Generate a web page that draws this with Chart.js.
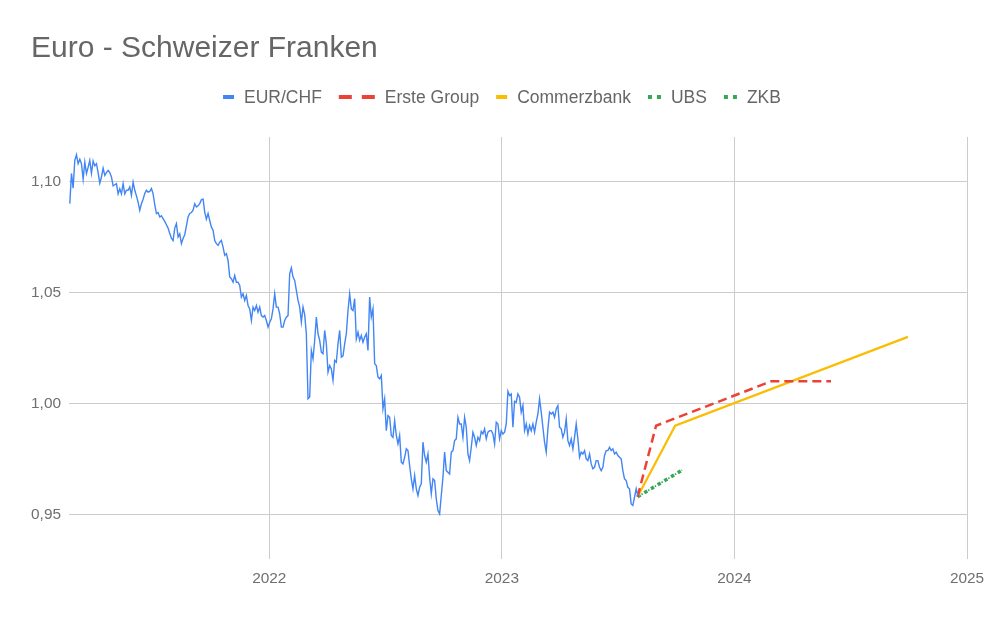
<!DOCTYPE html>
<html>
<head>
<meta charset="utf-8">
<script src="https://cdn.jsdelivr.net/npm/chart.js@4.4.0/dist/chart.umd.min.js"></script>
<style>
html,body{margin:0;padding:0;background:#fff;}
</style>
</head>
<body>
<canvas id="fxChart" width="998" height="617"></canvas>
<script>
const chartTitle = "Euro - Schweizer Franken";
const yearTicks = [2022, 2023, 2024, 2025];
const valueTicks = [0.95, 1.00, 1.05, 1.10];

// EUR/CHF, every ~2.6 days from the start date
const eurStart = "2021-02-22";
const eurStepDays = 2.616;
const eurValues = [
1.0900,1.1036,1.0970,1.1095,1.1120,1.1080,1.1100,1.1080,1.1010,1.1087,
1.1036,1.1064,1.1095,1.1036,1.1092,1.1070,1.1080,1.1040,1.0992,1.1020,
1.1060,1.1027,1.1040,1.1050,1.1040,1.1020,1.0980,1.0985,1.0990,1.0944,
1.0967,1.0944,1.0990,1.0944,1.0960,1.0960,1.0975,1.0937,1.0997,1.0960,
1.0935,1.0907,1.0870,1.0900,1.0920,1.0946,1.0960,1.0952,1.0955,1.0968,
1.0944,1.0895,1.0855,1.0860,1.0840,1.0845,1.0832,1.0820,1.0805,1.0790,
1.0765,1.0745,1.0734,1.0790,1.0810,1.0750,1.0764,1.0720,1.0743,1.0760,
1.0800,1.0840,1.0856,1.0860,1.0870,1.0900,1.0885,1.0890,1.0900,1.0918,
1.0920,1.0862,1.0830,1.0856,1.0824,1.0794,1.0780,1.0734,1.0720,1.0712,
1.0726,1.0734,1.0704,1.0667,1.0675,1.0644,1.0570,1.0562,1.0546,1.0577,
1.0546,1.0546,1.0532,1.0479,1.0494,1.0464,1.0487,1.0441,1.0426,1.0374,
1.0434,1.0419,1.0441,1.0411,1.0434,1.0396,1.0389,1.0396,1.0374,1.0344,
1.0366,1.0381,1.0426,1.0494,1.0434,1.0434,1.0404,1.0344,1.0344,1.0374,
1.0389,1.0396,1.0584,1.0611,1.0569,1.0554,1.0509,1.0464,1.0434,1.0366,
1.0434,1.0400,1.0314,1.0021,1.0029,1.0239,1.0201,1.0284,1.0389,1.0314,
1.0284,1.0231,1.0224,1.0329,1.0270,1.0141,1.0171,1.0156,1.0104,1.0194,
1.0186,1.0269,1.0329,1.0209,1.0215,1.0269,1.0314,1.0419,1.0494,1.0426,
1.0419,1.0472,1.0291,1.0321,1.0284,1.0306,1.0276,1.0299,1.0314,1.0239,
1.0479,1.0389,1.0426,1.0179,1.0171,1.0119,1.0111,1.0126,0.9976,1.0021,
0.9878,0.9946,0.9938,0.9856,0.9848,0.9923,0.9856,0.9818,0.9856,0.9736,
0.9728,0.9758,0.9796,0.9788,0.9721,0.9661,0.9616,0.9676,0.9616,0.9586,
0.9623,0.9638,0.9826,0.9766,0.9736,0.9773,0.9668,0.9593,0.9661,0.9653,
0.9571,0.9518,0.9503,0.9586,0.9668,0.9781,0.9698,0.9691,0.9683,0.9781,
0.9788,0.9833,0.9841,0.9938,0.9908,0.9908,0.9848,0.9938,0.9893,0.9773,
0.9743,0.9803,0.9871,0.9848,0.9811,0.9848,0.9833,0.9875,0.9863,0.9886,
0.9841,0.9871,0.9878,0.9878,0.9863,0.9818,0.9916,0.9908,0.9841,0.9878,
0.9863,0.9871,0.9908,1.0055,1.0036,1.0043,0.9893,1.0010,1.0006,1.0043,
1.0028,0.9961,0.9991,0.9878,0.9908,0.9863,0.9901,0.9878,0.9908,0.9871,
0.9916,0.9953,1.0021,0.9961,0.9893,0.9826,0.9781,0.9886,0.9961,0.9953,
0.9961,0.9938,0.9976,0.9991,0.9893,0.9886,0.9848,0.9871,0.9931,0.9833,
0.9811,0.9841,0.9796,0.9848,0.9908,0.9841,0.9758,0.9781,0.9773,0.9788,
0.9751,0.9743,0.9773,0.9728,0.9706,0.9713,0.9743,0.9743,0.9713,0.9698,
0.9713,0.9766,0.9788,0.9788,0.9803,0.9788,0.9796,0.9773,0.9781,0.9766,
0.9758,0.9751,0.9698,0.9661,0.9653,0.9623,0.9616,0.9548,0.9541,0.9578,
0.9616,0.9586
];

// forecasts
const ersteDates = ["2023-08-02", "2023-08-31", "2024-02-28", "2024-06-01"];
const ersteValues = [0.958, 0.99, 1.01, 1.01];
const commerzDates = ["2023-08-02", "2023-09-30", "2024-09-30"];
const commerzValues = [0.958, 0.99, 1.03];
const ubsDates = ["2023-08-02", "2023-10-11"];
const ubsValues = [0.958, 0.97];
const zkbDates = ["2023-08-02", "2023-10-11"];
const zkbValues = [0.958, 0.97];

const FONT = '"Liberation Sans", Arial, sans-serif';

function toYear(s){
    const d = new Date(s + "T00:00:00Z");
    const y = d.getUTCFullYear();
    const a = Date.UTC(y, 0, 1), b = Date.UTC(y + 1, 0, 1);
    return y + (d.getTime() - a) / (b - a);
}

function toPoints(dates, values){
    return values.map((v, i) => ({x: toYear(dates[i]), y: v}));
}

const eurT0 = toYear(eurStart);
const eurPoints = eurValues.map((v, i) => ({x: eurT0 + i * eurStepDays / 365.25, y: v}));

function markerWidth(type){
    if(type === "dash") return 36;
    if(type === "dot") return 13;
    return 11;
}

function drawMarker(ctx, type, color, x, cy){
    ctx.fillStyle = color;
    if(type === "dash"){
        ctx.fillRect(x, cy - 2, 13, 4);
        ctx.fillRect(x + 23, cy - 2, 13, 4);
    } else if(type === "dot"){
        ctx.fillRect(x, cy - 2, 4, 4);
        ctx.fillRect(x + 9, cy - 2, 4, 4);
    } else {
        ctx.fillRect(x, cy - 2, 11, 4);
    }
}

// title + legend drawn by hand, Google-Sheets style
const headerPlugin = {
    id: "header",
    afterDraw(chart){
        const ctx = chart.ctx;
        ctx.save();
        ctx.textBaseline = "middle";
        ctx.textAlign = "left";
        ctx.fillStyle = "#666666";
        ctx.font = "30px " + FONT;
        ctx.fillText(chartTitle, 31, 49);

        ctx.font = "17.5px " + FONT;
        const items = chart.data.datasets.map(ds => ({
            ds: ds,
            mw: markerWidth(ds.legendMarker),
            tw: ctx.measureText(ds.label).width
        }));
        const total = items.reduce((s, it) => s + it.mw + 10 + it.tw, 0) + 17 * (items.length - 1);
        let x = 502 - total / 2;
        const cy = 97;
        items.forEach(it => {
            drawMarker(ctx, it.ds.legendMarker, it.ds.borderColor, x, cy);
            x += it.mw + 10;
            ctx.fillStyle = "#666666";
            ctx.fillText(it.ds.label, x, cy + 1);
            x += it.tw + 17;
        });
        ctx.restore();
    }
};

const fxChart = new Chart(document.getElementById("fxChart"), {
    type: "line",
    data: {
        datasets: [
            {
                label: "EUR/CHF",
                data: eurPoints,
                borderColor: "#4285f4",
                borderWidth: 1.4,
                pointRadius: 0,
                legendMarker: "solid"
            },
            {
                label: "Erste Group",
                data: toPoints(ersteDates, ersteValues),
                borderColor: "#ea4335",
                borderWidth: 2.5,
                borderDash: [9, 5],
                pointRadius: 0,
                legendMarker: "dash"
            },
            {
                label: "Commerzbank",
                data: toPoints(commerzDates, commerzValues),
                borderColor: "#fbbc04",
                borderWidth: 2.2,
                pointRadius: 0,
                legendMarker: "solid"
            },
            {
                label: "UBS",
                data: toPoints(ubsDates, ubsValues),
                borderColor: "#34a853",
                borderWidth: 3.5,
                borderDash: [3.5, 4.3],
                pointRadius: 0,
                legendMarker: "dot"
            },
            {
                label: "ZKB",
                data: toPoints(zkbDates, zkbValues),
                borderColor: "#34a853",
                borderWidth: 1.6,
                borderDash: [1.5, 6.3],
                borderDashOffset: -4.5,
                pointRadius: 0,
                legendMarker: "dot"
            }
        ]
    },
    options: {
        responsive: false,
        animation: false,
        devicePixelRatio: 1,
        layout: {
            padding: {top: 137, right: 31, bottom: 0, left: 0}
        },
        plugins: {
            legend: {display: false},
            title: {display: false},
            tooltip: {enabled: false}
        },
        elements: {
            line: {tension: 0, fill: false}
        },
        scales: {
            x: {
                type: "linear",
                min: 2021.139,
                max: 2025,
                afterBuildTicks: s => { s.ticks = yearTicks.map(v => ({value: v})); },
                afterFit: s => { s.height = 58; },
                ticks: {
                    callback: v => String(v),
                    color: "#6f6f6f",
                    font: {family: FONT, size: 15.4},
                    padding: 11,
                    maxRotation: 0,
                    autoSkip: false
                },
                grid: {color: "#cccccc", drawTicks: false},
                border: {display: false}
            },
            y: {
                min: 0.93,
                max: 1.12,
                afterBuildTicks: s => { s.ticks = valueTicks.map(v => ({value: v})); },
                afterFit: s => { s.width = 69; },
                ticks: {
                    callback: v => v.toFixed(2).replace(".", ","),
                    color: "#6f6f6f",
                    font: {family: FONT, size: 15.4},
                    padding: 8
                },
                grid: {color: "#cccccc", drawTicks: false},
                border: {display: false}
            }
        }
    },
    plugins: [headerPlugin]
});
</script>
</body>
</html>
